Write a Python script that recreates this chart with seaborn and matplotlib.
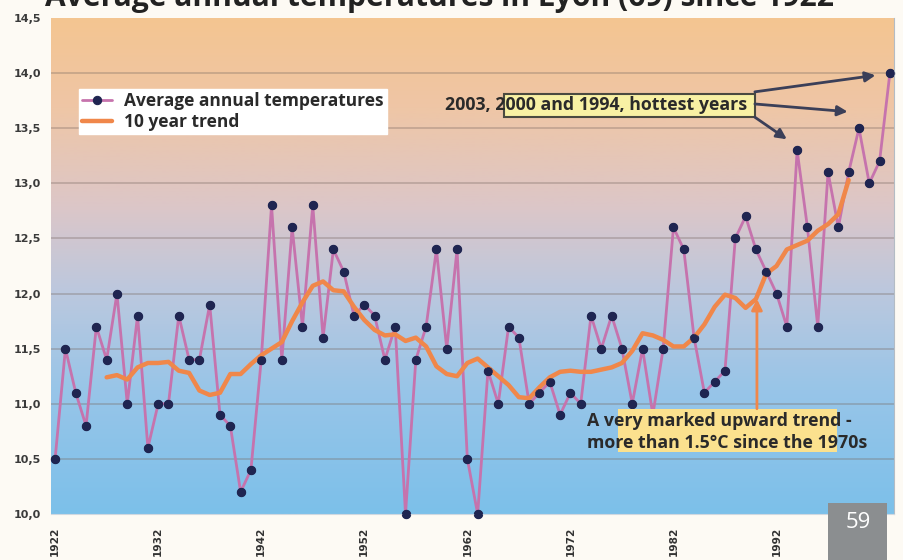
import numpy as np
import matplotlib
matplotlib.use('Agg')
import matplotlib.pyplot as plt
from matplotlib.colors import LinearSegmentedColormap
from matplotlib.patches import Rectangle
from matplotlib.ticker import FuncFormatter, MultipleLocator
import seaborn as sns

# Average annual temperature in Lyon
years = list(range(1922, 2004))
temps = [10.5, 11.5, 11.1, 10.8, 11.7, 11.4, 12.0, 11.0, 11.8, 10.6,
         11.0, 11.0, 11.8, 11.4, 11.4, 11.9, 10.9, 10.8, 10.2, 10.4,
         11.4, 12.8, 11.4, 12.6, 11.7, 12.8, 11.6, 12.4, 12.2, 11.8,
         11.9, 11.8, 11.4, 11.7, 10.0, 11.4, 11.7, 12.4, 11.5, 12.4,
         10.5, 10.0, 11.3, 11.0, 11.7, 11.6, 11.0, 11.1, 11.2, 10.9,
         11.1, 11.0, 11.8, 11.5, 11.8, 11.5, 11.0, 11.5, 10.9, 11.5,
         12.6, 12.4, 11.6, 11.1, 11.2, 11.3, 12.5, 12.7, 12.4, 12.2,
         12.0, 11.7, 13.3, 12.6, 11.7, 13.1, 12.6, 13.1, 13.5, 13.0,
         13.2, 14.0]

# 10 year trend
trend_years = list(range(1927, 2000))
trend = [11.24, 11.26, 11.22, 11.33, 11.37, 11.37, 11.38, 11.30, 11.28, 11.12,
         11.08, 11.10, 11.27, 11.27, 11.36, 11.44, 11.50, 11.56, 11.75, 11.92,
         12.07, 12.11, 12.03, 12.02, 11.88, 11.76, 11.67, 11.62, 11.63, 11.57,
         11.60, 11.52, 11.34, 11.27, 11.25, 11.37, 11.41, 11.33, 11.25, 11.17,
         11.06, 11.05, 11.15, 11.24, 11.29, 11.30, 11.29, 11.29, 11.31, 11.33,
         11.37, 11.48, 11.64, 11.62, 11.58, 11.52, 11.52, 11.60, 11.72, 11.88,
         11.99, 11.96, 11.87, 11.95, 12.18, 12.25, 12.40, 12.44, 12.48, 12.57,
         12.63, 12.72, 13.03]

tick_years = list(range(1922, 2000, 10))

sns.set_style('white')
plt.rcParams['font.family'] = ['Open Sans', 'DejaVu Sans']

fig = plt.figure(figsize=(9.04, 5.6), dpi=100)
fig.patch.set_facecolor('#fdfaf4')
ax = fig.add_axes([51 / 904, 1 - 514 / 560, 843 / 904, 496 / 560])

x0, x1 = 1921.6, 2003.4
y0, y1 = 10.0, 14.5

# gradient background: blue at the bottom, peach at the top
cmap = LinearSegmentedColormap.from_list(
    'bg', [(0.0, '#7cc0ea'), (0.25, '#98c5e8'), (0.45, '#bcc8de'),
           (0.62, '#dcc6c8'), (0.82, '#efc6a6'), (1.0, '#f4c591')])
ax.imshow(np.linspace(0, 1, 256).reshape(-1, 1), extent=[x0, x1, y0, y1],
          aspect='auto', origin='lower', cmap=cmap, zorder=0)

for v in np.arange(10.5, 14.5, 0.5):
    ax.axhline(v, color='#7a6a62', alpha=0.35, lw=1.3, zorder=1)

sns.lineplot(x=years, y=temps, ax=ax, color='#c673ad', lw=2,
             marker='o', markersize=6, markerfacecolor='#1f2551',
             markeredgecolor='#1f2551', label='Average annual temperatures',
             zorder=2, clip_on=False)
sns.lineplot(x=trend_years, y=trend, ax=ax, color='#f0874a', lw=3.2,
             label='10 year trend', zorder=3)
sns.scatterplot(x=years, y=temps, ax=ax, color='#1f2551', s=32,
                edgecolor='#1f2551', zorder=4, clip_on=False, legend=False)

ax.set_xlim(x0, x1)
ax.set_ylim(y0, y1)
ax.yaxis.set_major_locator(MultipleLocator(0.5))
ax.yaxis.set_major_formatter(FuncFormatter(lambda v, p: f'{v:.1f}'.replace('.', ',')))
ax.set_xticks(tick_years)
ax.xaxis.set_minor_locator(MultipleLocator(1))
ax.tick_params(axis='x', which='both', direction='out', length=4, width=1,
               color='#c8d0d8', pad=5)
ax.tick_params(axis='y', direction='out', length=4, color='#9a9a9a', pad=3)
for lab in ax.get_xticklabels():
    lab.set_rotation(90)
    lab.set_va('top')
    lab.set_fontsize(7.6)
    lab.set_fontweight('bold')
    lab.set_family('DejaVu Sans')
    lab.set_color('#333333')
for lab in ax.get_yticklabels():
    lab.set_fontsize(8)
    lab.set_fontweight('bold')
    lab.set_family('DejaVu Sans')
    lab.set_color('#3a3a3a')
ax.set_xlabel('')
ax.set_ylabel('')
for s in ['top', 'left']:
    ax.spines[s].set_visible(False)
ax.spines['right'].set_color('#b4bcc4')
ax.spines['bottom'].set_color('#d0d8e0')

leg = ax.legend(loc='upper left', bbox_to_anchor=(0.0225, 0.875),
                frameon=True, fancybox=False, framealpha=1, edgecolor='white',
                facecolor='white', borderpad=0.2, handlelength=1.7,
                handletextpad=0.7, labelspacing=0.15,
                prop=dict(weight='bold', size=12.5))
for t in leg.get_texts():
    t.set_color('#2a2a2a')

# hottest years callout
ax.add_patch(Rectangle((1965.6, 13.60), 24.3, 0.21, facecolor='#f8f1a4',
                       edgecolor='#4a4a40', lw=1.5, zorder=5))
ax.text(1959.8, 13.71, '2003, 2000 and 1994, hottest years', fontsize=12.8,
        fontweight='bold', color='#2a2a2a', va='center', zorder=6)
arrow_dark = dict(arrowstyle='-|>', color='#3b3f58', lw=2, mutation_scale=15,
                  shrinkA=0, shrinkB=0)
ax.annotate('', xy=(2001.6, 13.98), xytext=(1989.9, 13.83), arrowprops=arrow_dark, zorder=6)
ax.annotate('', xy=(1998.9, 13.65), xytext=(1989.9, 13.72), arrowprops=arrow_dark, zorder=6)
ax.annotate('', xy=(1993.0, 13.40), xytext=(1989.9, 13.60), arrowprops=arrow_dark, zorder=6)

# upward trend callout
ax.add_patch(Rectangle((1976.6, 10.564), 21.3, 0.391, facecolor='#fbe18e',
                       edgecolor='none', zorder=5))
ax.text(1973.6, 10.745, 'A very marked upward trend -\nmore than 1.5°C since the 1970s',
        fontsize=12.8, fontweight='bold', color='#2a2a2a', va='center',
        linespacing=1.25, zorder=6)
ax.annotate('', xy=(1990.1, 11.95), xytext=(1990.1, 10.955),
            arrowprops=dict(arrowstyle='-|>', color='#f0874a', lw=2,
                            mutation_scale=16, shrinkA=0, shrinkB=0), zorder=6)

# title, cut off by the top edge as in the page scan
fig.text(440 / 904, 1 - 6 / 560, 'Average annual temperatures in Lyon (69) since 1922',
         ha='center', va='baseline', fontsize=21.6, fontweight='bold', color='#222222')

# page number
fig.add_artist(Rectangle((828 / 904, 0), 59 / 904, 57 / 560,
                         transform=fig.transFigure, facecolor='#8b8e90',
                         edgecolor='none', zorder=5))
fig.text(858 / 904, 1 - 523 / 560, '59', ha='center', va='center', fontsize=16,
         color='white', zorder=6)

fig.savefig('out.png', dpi=100, facecolor=fig.get_facecolor())
